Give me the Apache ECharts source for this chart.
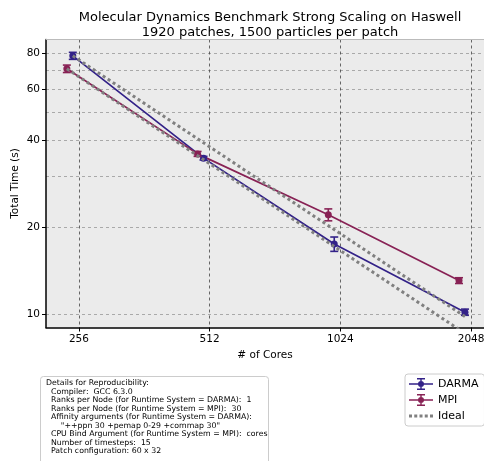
<!DOCTYPE html>
<html>
<head>
<meta charset="utf-8">
<script src="https://cdn.jsdelivr.net/npm/echarts@6/dist/echarts.min.js"></script>
<style>html,body{margin:0;padding:0;background:#fff}#c{width:484px;height:461px}</style>
</head>
<body>
<div id="c"></div>
<script>
const cores = [256, 512, 1024, 2048];
const darmaTime = [78.5, 34.7, 17.5, 10.16];
const darmaErr = [2.2, 0.5, 1.0, 0.25];
const mpiTime = [70.8, 35.9, 22.1, 13.07];
const mpiErr = [2.1, 0.7, 1.05, 0.3];
const idealDarma = [78.5, 39.25, 19.63, 9.81];
const idealMpi = [70.8, 35.4, 17.7, 8.85];
const yGridValues = [10, 20, 30, 40, 50, 60, 70, 80];
const yLabelValues = [10, 20, 40, 60, 80];
const detailsLines = [
  'Details for Reproducibility:',
  '  Compiler:  GCC 6.3.0',
  '  Ranks per Node (for Runtime System = DARMA):  1',
  '  Ranks per Node (for Runtime System = MPI):  30',
  '  Affinity arguments (for Runtime System = DARMA):',
  '      "++ppn 30 +pemap 0-29 +commap 30"',
  '  CPU Bind Argument (for Runtime System = MPI):  cores',
  '  Number of timesteps:  15',
  '  Patch configuration: 60 x 32'
];

const DARMA_C = '#332288';
const MPI_C = '#882255';
const darmaShift = 0.968;
const mpiShift = 0.938;

function pts(vals, shift) { return vals.map((v, i) => [cores[i] * shift, v]); }
function errData(vals, errs, shift) { return vals.map((v, i) => [cores[i] * shift, v - errs[i], v + errs[i]]); }

function errRender(color) {
  return function (params, api) {
    const x = api.value(0);
    const lo = api.coord([x, api.value(1)]);
    const hi = api.coord([x, api.value(2)]);
    const hw = 4;
    const st = { stroke: color, lineWidth: 1.6 };
    return {
      type: 'group',
      children: [
        { type: 'line', shape: { x1: lo[0], y1: lo[1], x2: hi[0], y2: hi[1] }, style: st },
        { type: 'line', shape: { x1: lo[0] - hw, y1: lo[1], x2: lo[0] + hw, y2: lo[1] }, style: st },
        { type: 'line', shape: { x1: hi[0] - hw, y1: hi[1], x2: hi[0] + hw, y2: hi[1] }, style: st }
      ]
    };
  };
}

const errIcon = 'path://M0,5.3h24v1.4h-24z M11.3,0h1.4v12h-1.4z M8,0h8v1.6h-8z M8,10.4h8v1.6h-8z M9,6a3,3 0 1,1 6,0a3,3 0 1,1 -6,0z';
const idealIcon = 'path://M0,4.5h3v3h-3z M5.25,4.5h3v3h-3z M10.5,4.5h3v3h-3z M15.75,4.5h3v3h-3z M21,4.5h3v3h-3z M0,0h0.01v12h-0.01z';
const labelFmt = function (v) { return String(Math.round(v)); };

const font = 'DejaVu Sans';
const chart = echarts.init(document.getElementById('c'), null, { renderer: 'canvas' });
chart.setOption({
  animation: false,
  backgroundColor: '#ffffff',
  textStyle: { fontFamily: font },
  title: {
    text: 'Molecular Dynamics Benchmark Strong Scaling on Haswell\n1920 patches, 1500 particles per patch',
    left: 265, top: 5, textAlign: 'center',
    textStyle: { fontFamily: font, fontSize: 13, fontWeight: 'normal', color: '#000', lineHeight: 15 }
  },
  grid: { left: 46, right: 0, top: 39.5, bottom: 133.5, show: true, backgroundColor: '#ebebeb', borderWidth: 0, outerBoundsMode: 'none', containLabel: false },
  legend: {
    orient: 'vertical', left: 405, top: 374,
    padding: [4, 6, 4, 4], itemGap: 4, itemWidth: 24, itemHeight: 12,
    backgroundColor: '#fff', borderColor: '#cccccc', borderWidth: 1, borderRadius: 3,
    textStyle: { fontFamily: font, fontSize: 11, color: '#000' },
    data: [
      { name: 'DARMA', icon: errIcon },
      { name: 'MPI', icon: errIcon },
      { name: 'Ideal', icon: idealIcon }
    ]
  },
  xAxis: [{
    type: 'log', logBase: 2, min: 215, max: 2193,
    name: '# of Cores', nameLocation: 'middle', nameGap: 22, nameMoveOverlap: false,
    nameTextStyle: { fontFamily: font, fontSize: 10.5, color: '#000' },
    axisLine: { show: true, lineStyle: { color: '#000', width: 1.5 } },
    axisTick: { show: true, length: 4, inside: false, customValues: cores, lineStyle: { color: '#000', width: 1 } },
    axisLabel: { customValues: cores, formatter: labelFmt, color: '#000', fontSize: 10.5, fontFamily: font, margin: 6 },
    splitLine: { show: true, lineStyle: { color: '#444', width: 0.8, type: [3, 3] } }
  }, {
    type: 'log', logBase: 2, min: 215, max: 2193, position: 'top',
    axisLine: { show: true, lineStyle: { color: '#bbbbbb', width: 1 } },
    axisTick: { show: false }, axisLabel: { show: false }, splitLine: { show: false }
  }],
  yAxis: [{
    type: 'log', logBase: 10, min: 8.99, max: 89.4,
    axisLine: { show: false },
    axisTick: { show: false, customValues: yGridValues },
    axisLabel: { show: false },
    splitLine: { show: true, lineStyle: { color: '#999', width: 0.8, type: [3, 3] } }
  }, {
    type: 'log', logBase: 10, min: 8.99, max: 89.4, position: 'left',
    name: 'Total Time (s)', nameLocation: 'middle', nameGap: 25, nameRotate: 90, nameMoveOverlap: false,
    nameTextStyle: { fontFamily: font, fontSize: 10.5, color: '#000' },
    axisLine: { show: true, lineStyle: { color: '#000', width: 1.5 } },
    axisTick: { show: true, length: 4, inside: false, customValues: yLabelValues, lineStyle: { color: '#000', width: 1 } },
    axisLabel: { customValues: yLabelValues, formatter: labelFmt, color: '#000', fontSize: 10.5, fontFamily: font, margin: 6 },
    splitLine: { show: false }
  }],
  series: [
    {
      name: 'DARMA', type: 'line', data: pts(darmaTime, darmaShift), z: 3,
      lineStyle: { color: DARMA_C, width: 1.7 }, itemStyle: { color: DARMA_C },
      symbol: 'circle', symbolSize: 7, showSymbol: true
    },
    {
      name: 'DARMA', type: 'custom', data: errData(darmaTime, darmaErr, darmaShift), z: 4,
      renderItem: errRender(DARMA_C), encode: { x: 0, y: [1, 2] }
    },
    {
      name: 'MPI', type: 'line', data: pts(mpiTime, mpiShift), z: 3,
      lineStyle: { color: MPI_C, width: 1.7 }, itemStyle: { color: MPI_C },
      symbol: 'circle', symbolSize: 7, showSymbol: true
    },
    {
      name: 'MPI', type: 'custom', data: errData(mpiTime, mpiErr, mpiShift), z: 4,
      renderItem: errRender(MPI_C), encode: { x: 0, y: [1, 2] }
    },
    {
      name: 'Ideal', type: 'line', data: pts(idealDarma, darmaShift), z: 5,
      symbol: 'none', lineStyle: { color: '#808080', width: 3, type: [3, 3] }, itemStyle: { color: '#808080' }
    },
    {
      name: 'Ideal', type: 'line', data: pts(idealMpi, mpiShift), z: 5,
      symbol: 'none', lineStyle: { color: '#808080', width: 3, type: [3, 3] }, itemStyle: { color: '#808080' }
    }
  ],
  graphic: [
    {
      type: 'rect', left: 40, top: 376, shape: { width: 228, height: 100, r: 3 },
      style: { fill: '#fff', stroke: '#cccccc', lineWidth: 1 }, z: 10
    },
    {
      type: 'text', left: 46, top: 379, z: 11,
      style: { text: detailsLines.join('\n'), font: '7.8px "DejaVu Sans"', lineHeight: 8.5, fill: '#000' }
    }
  ]
});
</script>
</body>
</html>
